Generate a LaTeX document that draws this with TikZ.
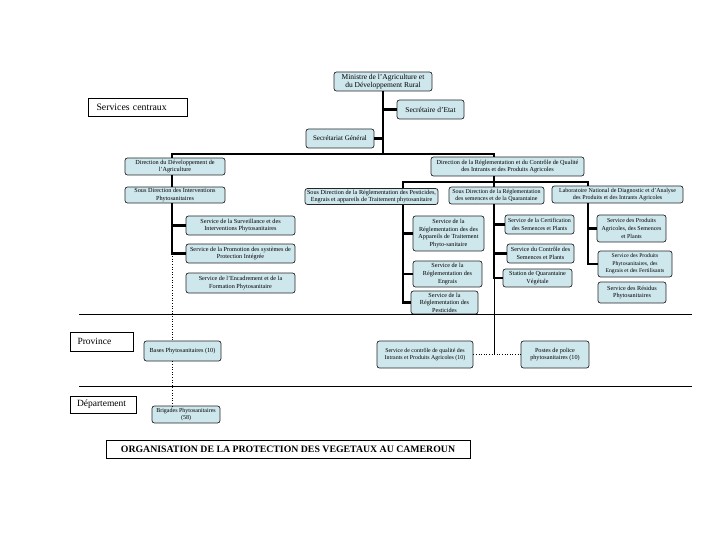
\documentclass[tikz,border=0pt]{standalone}
\usepackage{fontspec}
\setmainfont{Liberation Serif}
\definecolor{boxblue}{RGB}{206,231,236}
\begin{document}
\begin{tikzpicture}[x=1pt,y=-1pt,
  box/.style={draw=black!85, fill=boxblue, rounded corners=2.5pt, line width=0.7pt,
    align=center, inner sep=0pt, font=\fontsize{6.2}{7.6}\selectfont},
  fs/.style={font=\fontsize{#1}{7.6}\selectfont},
  topbox/.style={box, font=\fontsize{7.5}{8.6}\selectfont},
  plainbox/.style={draw, line width=0.6pt, inner sep=0pt, font=\fontsize{9.8}{11}\selectfont},
  conn/.style={line width=2.6pt},
  thinline/.style={line width=0.6pt}]
\useasboundingbox (0,0) rectangle (720,540);

% central level
\node[topbox, minimum width=98pt, minimum height=19pt] (min) at (383,81.5) {Ministre de l'Agriculture et\\du Développement Rural};
\node[plainbox, minimum width=99pt, minimum height=18pt, text width=82pt, align=left] (sce) at (137.5,107) {Services centraux};
\node[topbox, minimum width=67pt, minimum height=19pt] (sec) at (430.5,109.5) {Secrétaire d'Etat};
\node[topbox, fs=7, minimum width=68pt, minimum height=19pt] (sg) at (340,138.5) {Secrétariat Général};

% left branch
\node[box, minimum width=100pt, minimum height=17pt] (dda) at (175,166.5) {Direction du Développement de\\l'Agriculture};
\node[box, minimum width=100pt, minimum height=16pt] (sdip) at (175,195) {Sous Direction des Interventions\\Phytosanitaires};
\node[box, minimum width=109pt, minimum height=19pt] (s1) at (240.5,225.5) {Service de la Surveillance et des\\Interventions Phytosanitaires};
\node[box, minimum width=109pt, minimum height=19pt] (s2) at (240.5,253.5) {Service de la Promotion des systèmes de\\Protection Intégrée};
\node[box, minimum width=109pt, minimum height=20pt] (s3) at (240.5,283) {Service de l'Encadrement et de la\\Formation Phytosanitaire};

% right branch
\node[box, minimum width=153pt, minimum height=19pt] (drc) at (507.5,166.5) {Direction de la Réglementation et du Contrôle de Qualité\\des Intrants et des Produits Agricoles};
\node[box, minimum width=133pt, minimum height=16pt] (sdA) at (371.5,196.5) {Sous Direction de la Réglementation des Pesticides,\\Engrais et appareils de Traitement phytosanitaire};
\node[box, fs=6, minimum width=95pt, minimum height=17pt] (sdB) at (496.5,195.5) {Sous Direction de la Réglementation\\des semences et de la Quarantaine};
\node[box, fs=6, minimum width=131pt, minimum height=17pt] (lab) at (617.5,194.5) {Laboratoire National de Diagnostic et d'Analyse\\des Produits et des Intrants Agricoles};

\node[box, minimum width=71pt, minimum height=35pt] (A1) at (448.5,233.5) {Service de la\\Réglementation des des\\Appareils de Traitement\\Phyto-sanitaire};
\node[box, minimum width=69pt, minimum height=26pt] (A2) at (447.5,274) {Service de la\\Réglementation des\\Engrais};
\node[box, minimum width=67pt, minimum height=23pt] (A3) at (444.5,302.5) {Service de la\\Réglementation des\\Pesticides};

\node[box, fs=6, minimum width=69pt, minimum height=19pt] (B1) at (539.5,224.5) {Service de la Certification\\des Semences et Plants};
\node[box, minimum width=67pt, minimum height=19pt] (B2) at (540.5,253.5) {Service du Contrôle des\\Semences et Plants};
\node[box, minimum width=69pt, minimum height=18pt] (B3) at (537.5,278) {Station de Quarantaine\\Végétale};

\node[box, fs=6, minimum width=69pt, minimum height=27pt] (L1) at (631.5,228.5) {Service des Produits\\Agricoles, des Semences\\et Plants};
\node[box, fs=5.7, minimum width=74pt, minimum height=26pt] (L2) at (635,264) {Service des Produits\\Phytosanitaires, des\\Engrais et des Fertilisants};
\node[box, minimum width=68pt, minimum height=21pt] (L3) at (632,292.5) {Service des Résidus\\Phytosanitaires};

% province / departement
\node[plainbox, fs=9.5, minimum width=63pt, minimum height=19pt, text width=48pt, align=left] (prov) at (101.5,341.5) {Province};
\node[plainbox, fs=9.5, minimum width=66pt, minimum height=17pt, text width=52pt, align=left] (dep) at (103,404.5) {Département};
\node[box, minimum width=77pt, minimum height=20pt] (bases) at (182.5,351) {Bases Phytosanitaires (10)};
\node[box, fs=6, minimum width=68pt, minimum height=17pt] (brig) at (186,414.5) {Brigades Phytosanitaires\\(58)};
\node[box, fs=5.9, minimum width=96pt, minimum height=27pt] (scq) at (425,354.5) {Service de contrôle de qualité des\\Intrants et Produits Agricoles (10)};
\node[box, minimum width=68pt, minimum height=27pt] (postes) at (555,354.5) {Postes de police\\phytosanitaires (10)};

\node[plainbox, minimum width=364pt, minimum height=18pt, font=\fontsize{9.8}{11}\bfseries] (title) at (288,449) {ORGANISATION DE LA PROTECTION DES VEGETAUX AU CAMEROUN};

% level separators
\coordinate (h1a) at (79,314); \coordinate (h1b) at (692,314);
\coordinate (h2a) at (79,386); \coordinate (h2b) at (692,386);
\draw[thinline] (h1a) -- (h1b);
\draw[thinline] (h2a) -- (h2b);

% connectors: top
\coordinate (barL) at (172,154);
\coordinate (barR) at (494,154);
\draw[conn] (min.south) -- (min.south |- barL);
\draw[conn] (min.south |- sec.west) -- (sec.west);
\draw[conn] (min.south |- sg.east) -- (sg.east);
\draw[conn] (barL |- dda.north) -- (barL) -- (barR) -- (barR |- drc.north);

% left branch connectors
\coordinate (lv) at (172,253.5);
\draw[conn] (barL |- dda.south) -- (barL |- sdip.north);
\draw[conn] (barL |- sdip.south) -- (lv) -- (s2.west);
\draw[conn] (barL |- s1.west) -- (s1.west);
\draw[thinline, dotted] (lv) -- (lv |- bases.north);
\draw[thinline, dotted] (lv |- bases.south) -- (lv |- brig.north);

% right branch connectors
\coordinate (rb1) at (403,182);
\coordinate (rb2) at (588,182);
\draw[conn] (barR |- drc.south) -- (barR |- rb1);
\draw[conn] (rb1 |- sdA.north) -- (rb1) -- (rb2) -- (rb2 |- lab.north);
\draw[conn] (barR |- rb1) -- (barR |- sdB.north);

\draw[conn] (rb1 |- sdA.south) -- (rb1 |- A3.west) -- (A3.west);
\draw[conn] (rb1 |- A1.west) -- (A1.west);
\draw[conn] (rb1 |- A2.west) -- (A2.west);

\draw[conn] (barR |- sdB.south) -- (barR |- B3.west) -- (B3.west);
\draw[conn] (barR |- B1.west) -- (B1.west);
\draw[conn] (barR |- B2.west) -- (B2.west);
\draw[thinline] (barR |- B3.west) -- (barR |- scq.east);
\draw[thinline, dotted] (scq.east) -- (postes.west);

\draw[conn] (rb2 |- lab.south) -- (rb2 |- L2.west) -- (L2.west);
\draw[conn] (rb2 |- L1.west) -- (L1.west);
\end{tikzpicture}
\end{document}
